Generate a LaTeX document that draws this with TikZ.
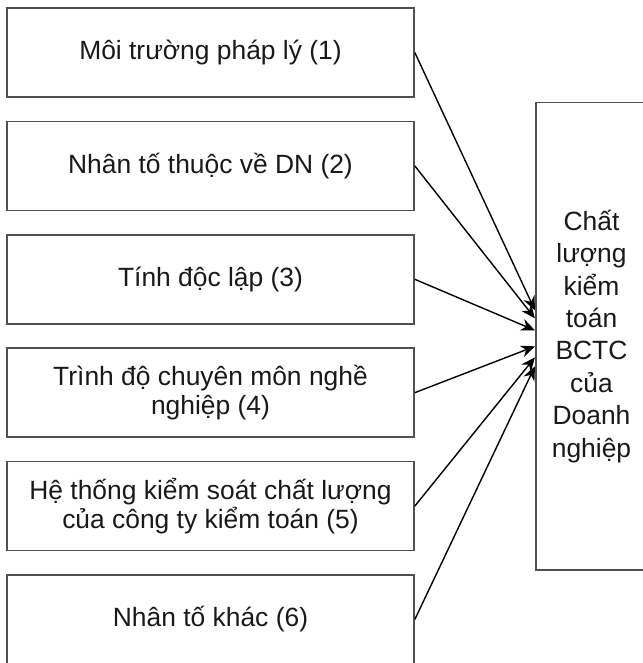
\documentclass[tikz,border=0pt]{standalone}
\usepackage{fontspec}
\setmainfont{Liberation Sans}
\usetikzlibrary{positioning,arrows.meta}
\definecolor{qaGray}{RGB}{80,80,80}
\definecolor{qaText}{RGB}{25,25,25}
\tikzset{
    base/.style={font=\fontsize{13.2}{14.6}\selectfont, align=center, text=qaText},
    factor/.style={base, rectangle, draw=qaGray, line width=0.8pt,
                   minimum width=203.5pt, minimum height=44.5pt, inner sep=0pt},
    outcome/.style={base, rectangle, draw=qaGray, line width=0.8pt,
                    minimum width=55.75pt, minimum height=233.65pt, inner sep=0pt,
                    font=\fontsize{13.2}{16.2}\selectfont},
    flow/.style={-{Stealth[length=7pt,width=6pt]}, line width=0.7pt, color=black}
}

\begin{document}
\begin{tikzpicture}[x=0.5pt, y=0.5pt]
  \useasboundingbox (0,0) rectangle (642,663);

  % factors, stacked top to bottom
  \node[factor] (legal) at (210.5,610.5) {Môi trường pháp lý (1)};
  \node[factor, below=11.4pt of legal] (firm) {Nhân tố thuộc về DN (2)};
  \node[factor, below=11.4pt of firm] (indep) {Tính độc lập (3)};
  \node[factor, below=11.4pt of indep] (skill) {Trình độ chuyên môn nghề\\nghiệp (4)};
  \node[factor, below=11.4pt of skill] (qcsys) {Hệ thống kiểm soát chất lượng\\của công ty kiểm toán (5)};
  \node[factor, below=11.4pt of qcsys] (other) {Nhân tố khác (6)};

  % audit quality
  \node[outcome] (quality) at (591.5,326.65)
    {Chất\\lượng\\kiểm\\toán\\BCTC\\của\\Doanh\\nghiệp};

  % arrows into the quality box
  \draw[flow] (legal.east) -- ([yshift=13pt]quality.west);
  \draw[flow] (firm.east)  -- ([yshift=9pt]quality.west);
  \draw[flow] (indep.east) -- ([yshift=3pt]quality.west);
  \draw[flow] (skill.east) -- ([yshift=-5pt]quality.west);
  \draw[flow] (qcsys.east) -- ([yshift=-10.5pt]quality.west);
  \draw[flow] (other.east) -- ([yshift=-15pt]quality.west);
\end{tikzpicture}
\end{document}
